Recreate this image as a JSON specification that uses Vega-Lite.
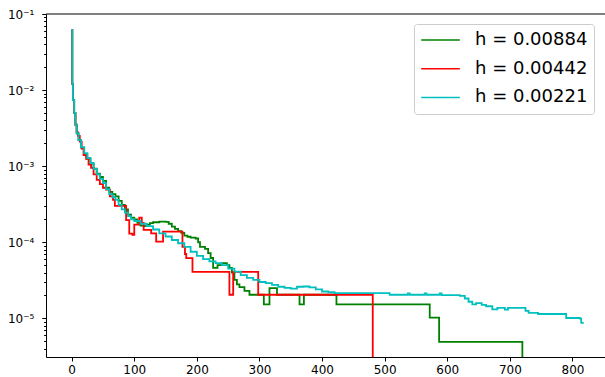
{
  "$schema": "https://vega.github.io/schema/vega-lite/v6.json",
  "width": 559,
  "height": 343,
  "autosize": {"type": "none"},
  "padding": {"left": 46, "top": 14, "right": 0, "bottom": 20},
  "background": "white",
  "config": {"view": {"stroke": null}, "font": "DejaVu Sans"},
  "datasets": {
    "curves": [
      {"s": "h = 0.00884", "x": 0, "y": 0.062}, {"s": "h = 0.00884", "x": 1, "y": 0.012}, {"s": "h = 0.00884", "x": 2, "y": 0.0074}, {"s": "h = 0.00884", "x": 4, "y": 0.005}, {"s": "h = 0.00884", "x": 6, "y": 0.0035}, {"s": "h = 0.00884", "x": 8, "y": 0.0027}, {"s": "h = 0.00884", "x": 11, "y": 0.0022}, {"s": "h = 0.00884", "x": 15, "y": 0.00175}, {"s": "h = 0.00884", "x": 20, "y": 0.00145}, {"s": "h = 0.00884", "x": 25, "y": 0.00125}, {"s": "h = 0.00884", "x": 30, "y": 0.00108}, {"s": "h = 0.00884", "x": 35, "y": 0.00093}, {"s": "h = 0.00884", "x": 40, "y": 0.0008}, {"s": "h = 0.00884", "x": 45, "y": 0.00072}, {"s": "h = 0.00884", "x": 50, "y": 0.00064}, {"s": "h = 0.00884", "x": 55, "y": 0.00052}, {"s": "h = 0.00884", "x": 60, "y": 0.00046}, {"s": "h = 0.00884", "x": 65, "y": 0.00043}, {"s": "h = 0.00884", "x": 70, "y": 0.0004}, {"s": "h = 0.00884", "x": 75, "y": 0.00035}, {"s": "h = 0.00884", "x": 80, "y": 0.00031}, {"s": "h = 0.00884", "x": 85, "y": 0.00027}, {"s": "h = 0.00884", "x": 90, "y": 0.00023}, {"s": "h = 0.00884", "x": 95, "y": 0.00021}, {"s": "h = 0.00884", "x": 100, "y": 0.0002}, {"s": "h = 0.00884", "x": 105, "y": 0.00018}, {"s": "h = 0.00884", "x": 110, "y": 0.000165}, {"s": "h = 0.00884", "x": 115, "y": 0.000163}, {"s": "h = 0.00884", "x": 120, "y": 0.00017}, {"s": "h = 0.00884", "x": 125, "y": 0.000178}, {"s": "h = 0.00884", "x": 130, "y": 0.000183}, {"s": "h = 0.00884", "x": 140, "y": 0.000187}, {"s": "h = 0.00884", "x": 150, "y": 0.000185}, {"s": "h = 0.00884", "x": 155, "y": 0.000175}, {"s": "h = 0.00884", "x": 160, "y": 0.00016}, {"s": "h = 0.00884", "x": 165, "y": 0.00015}, {"s": "h = 0.00884", "x": 170, "y": 0.00014}, {"s": "h = 0.00884", "x": 175, "y": 0.000133}, {"s": "h = 0.00884", "x": 180, "y": 0.000122}, {"s": "h = 0.00884", "x": 185, "y": 0.000118}, {"s": "h = 0.00884", "x": 190, "y": 0.000115}, {"s": "h = 0.00884", "x": 198, "y": 0.000112}, {"s": "h = 0.00884", "x": 202, "y": 0.0001}, {"s": "h = 0.00884", "x": 205, "y": 0.000087}, {"s": "h = 0.00884", "x": 213, "y": 0.000082}, {"s": "h = 0.00884", "x": 218, "y": 0.000072}, {"s": "h = 0.00884", "x": 222, "y": 0.000062}, {"s": "h = 0.00884", "x": 226, "y": 0.000046}, {"s": "h = 0.00884", "x": 233, "y": 0.00005}, {"s": "h = 0.00884", "x": 240, "y": 0.000053}, {"s": "h = 0.00884", "x": 248, "y": 0.00005}, {"s": "h = 0.00884", "x": 252, "y": 0.000046}, {"s": "h = 0.00884", "x": 256, "y": 0.00004}, {"s": "h = 0.00884", "x": 260, "y": 0.000032}, {"s": "h = 0.00884", "x": 264, "y": 0.000028}, {"s": "h = 0.00884", "x": 268, "y": 0.0000257}, {"s": "h = 0.00884", "x": 276, "y": 0.000023}, {"s": "h = 0.00884", "x": 284, "y": 0.0000204}, {"s": "h = 0.00884", "x": 307, "y": 0.0000152}, {"s": "h = 0.00884", "x": 316, "y": 0.000025}, {"s": "h = 0.00884", "x": 328, "y": 0.0000204}, {"s": "h = 0.00884", "x": 364, "y": 0.0000152}, {"s": "h = 0.00884", "x": 371, "y": 0.0000204}, {"s": "h = 0.00884", "x": 423, "y": 0.0000152}, {"s": "h = 0.00884", "x": 572, "y": 0.0000102}, {"s": "h = 0.00884", "x": 587, "y": 0.0000049}, {"s": "h = 0.00884", "x": 720, "y": 0.0000001},

      {"s": "h = 0.00442", "x": 0, "y": 0.062}, {"s": "h = 0.00442", "x": 1, "y": 0.012}, {"s": "h = 0.00442", "x": 2, "y": 0.0074}, {"s": "h = 0.00442", "x": 4, "y": 0.005}, {"s": "h = 0.00442", "x": 6, "y": 0.0035}, {"s": "h = 0.00442", "x": 8, "y": 0.0028}, {"s": "h = 0.00442", "x": 10, "y": 0.0025}, {"s": "h = 0.00442", "x": 13, "y": 0.0021}, {"s": "h = 0.00442", "x": 16, "y": 0.0017}, {"s": "h = 0.00442", "x": 19, "y": 0.0014}, {"s": "h = 0.00442", "x": 23, "y": 0.00125}, {"s": "h = 0.00442", "x": 27, "y": 0.00105}, {"s": "h = 0.00442", "x": 31, "y": 0.00095}, {"s": "h = 0.00442", "x": 35, "y": 0.00078}, {"s": "h = 0.00442", "x": 40, "y": 0.00066}, {"s": "h = 0.00442", "x": 45, "y": 0.00058}, {"s": "h = 0.00442", "x": 50, "y": 0.00052}, {"s": "h = 0.00442", "x": 55, "y": 0.00049}, {"s": "h = 0.00442", "x": 61, "y": 0.0004}, {"s": "h = 0.00442", "x": 66, "y": 0.00036}, {"s": "h = 0.00442", "x": 69, "y": 0.0003}, {"s": "h = 0.00442", "x": 87, "y": 0.000195}, {"s": "h = 0.00442", "x": 92, "y": 0.00013}, {"s": "h = 0.00442", "x": 97, "y": 0.000125}, {"s": "h = 0.00442", "x": 100, "y": 0.00017}, {"s": "h = 0.00442", "x": 108, "y": 0.00021}, {"s": "h = 0.00442", "x": 112, "y": 0.00018}, {"s": "h = 0.00442", "x": 115, "y": 0.000145}, {"s": "h = 0.00442", "x": 127, "y": 0.000131}, {"s": "h = 0.00442", "x": 135, "y": 0.000102}, {"s": "h = 0.00442", "x": 146, "y": 0.000138}, {"s": "h = 0.00442", "x": 177, "y": 0.000087}, {"s": "h = 0.00442", "x": 181, "y": 0.00007}, {"s": "h = 0.00442", "x": 183, "y": 0.0000617}, {"s": "h = 0.00442", "x": 193, "y": 0.0000407}, {"s": "h = 0.00442", "x": 252, "y": 0.0000204}, {"s": "h = 0.00442", "x": 258, "y": 0.0000407}, {"s": "h = 0.00442", "x": 298, "y": 0.0000204}, {"s": "h = 0.00442", "x": 481, "y": 0.0000001},

      {"s": "h = 0.00221", "x": 0, "y": 0.062}, {"s": "h = 0.00221", "x": 1, "y": 0.012}, {"s": "h = 0.00221", "x": 2, "y": 0.0074}, {"s": "h = 0.00221", "x": 4, "y": 0.005}, {"s": "h = 0.00221", "x": 6, "y": 0.0035}, {"s": "h = 0.00221", "x": 8, "y": 0.0027}, {"s": "h = 0.00221", "x": 11, "y": 0.0022}, {"s": "h = 0.00221", "x": 15, "y": 0.00178}, {"s": "h = 0.00221", "x": 20, "y": 0.00148}, {"s": "h = 0.00221", "x": 25, "y": 0.00128}, {"s": "h = 0.00221", "x": 30, "y": 0.0011}, {"s": "h = 0.00221", "x": 35, "y": 0.00092}, {"s": "h = 0.00221", "x": 40, "y": 0.00078}, {"s": "h = 0.00221", "x": 45, "y": 0.00068}, {"s": "h = 0.00221", "x": 50, "y": 0.0006}, {"s": "h = 0.00221", "x": 55, "y": 0.0005}, {"s": "h = 0.00221", "x": 60, "y": 0.00043}, {"s": "h = 0.00221", "x": 65, "y": 0.00039}, {"s": "h = 0.00221", "x": 70, "y": 0.00036}, {"s": "h = 0.00221", "x": 75, "y": 0.00031}, {"s": "h = 0.00221", "x": 80, "y": 0.00027}, {"s": "h = 0.00221", "x": 85, "y": 0.000245}, {"s": "h = 0.00221", "x": 90, "y": 0.00022}, {"s": "h = 0.00221", "x": 95, "y": 0.0002}, {"s": "h = 0.00221", "x": 100, "y": 0.00019}, {"s": "h = 0.00221", "x": 110, "y": 0.000175}, {"s": "h = 0.00221", "x": 120, "y": 0.000163}, {"s": "h = 0.00221", "x": 130, "y": 0.000147}, {"s": "h = 0.00221", "x": 140, "y": 0.000131}, {"s": "h = 0.00221", "x": 150, "y": 0.000119}, {"s": "h = 0.00221", "x": 160, "y": 0.000107}, {"s": "h = 0.00221", "x": 170, "y": 0.000097}, {"s": "h = 0.00221", "x": 180, "y": 0.000087}, {"s": "h = 0.00221", "x": 190, "y": 0.000075}, {"s": "h = 0.00221", "x": 200, "y": 0.000066}, {"s": "h = 0.00221", "x": 210, "y": 0.00006}, {"s": "h = 0.00221", "x": 220, "y": 0.000056}, {"s": "h = 0.00221", "x": 230, "y": 0.000053}, {"s": "h = 0.00221", "x": 240, "y": 0.00005}, {"s": "h = 0.00221", "x": 250, "y": 0.000045}, {"s": "h = 0.00221", "x": 260, "y": 0.000041}, {"s": "h = 0.00221", "x": 270, "y": 0.000037}, {"s": "h = 0.00221", "x": 280, "y": 0.000034}, {"s": "h = 0.00221", "x": 290, "y": 0.000032}, {"s": "h = 0.00221", "x": 300, "y": 0.00003}, {"s": "h = 0.00221", "x": 310, "y": 0.000029}, {"s": "h = 0.00221", "x": 320, "y": 0.0000275}, {"s": "h = 0.00221", "x": 330, "y": 0.000026}, {"s": "h = 0.00221", "x": 340, "y": 0.0000251}, {"s": "h = 0.00221", "x": 350, "y": 0.0000245}, {"s": "h = 0.00221", "x": 360, "y": 0.000026}, {"s": "h = 0.00221", "x": 370, "y": 0.0000262}, {"s": "h = 0.00221", "x": 380, "y": 0.0000255}, {"s": "h = 0.00221", "x": 390, "y": 0.000024}, {"s": "h = 0.00221", "x": 400, "y": 0.0000225}, {"s": "h = 0.00221", "x": 410, "y": 0.000022}, {"s": "h = 0.00221", "x": 420, "y": 0.0000214}, {"s": "h = 0.00221", "x": 508, "y": 0.0000204}, {"s": "h = 0.00221", "x": 537, "y": 0.0000212}, {"s": "h = 0.00221", "x": 540, "y": 0.0000204}, {"s": "h = 0.00221", "x": 564, "y": 0.0000212}, {"s": "h = 0.00221", "x": 567, "y": 0.0000204}, {"s": "h = 0.00221", "x": 588, "y": 0.0000212}, {"s": "h = 0.00221", "x": 591, "y": 0.0000202}, {"s": "h = 0.00221", "x": 620, "y": 0.0000197}, {"s": "h = 0.00221", "x": 628, "y": 0.0000182}, {"s": "h = 0.00221", "x": 634, "y": 0.0000165}, {"s": "h = 0.00221", "x": 640, "y": 0.0000152}, {"s": "h = 0.00221", "x": 646, "y": 0.0000158}, {"s": "h = 0.00221", "x": 655, "y": 0.000015}, {"s": "h = 0.00221", "x": 662, "y": 0.0000144}, {"s": "h = 0.00221", "x": 672, "y": 0.0000131}, {"s": "h = 0.00221", "x": 680, "y": 0.0000137}, {"s": "h = 0.00221", "x": 692, "y": 0.000013}, {"s": "h = 0.00221", "x": 697, "y": 0.0000137}, {"s": "h = 0.00221", "x": 725, "y": 0.0000125}, {"s": "h = 0.00221", "x": 730, "y": 0.0000118}, {"s": "h = 0.00221", "x": 745, "y": 0.0000114}, {"s": "h = 0.00221", "x": 785, "y": 0.0000114}, {"s": "h = 0.00221", "x": 790, "y": 0.0000101}, {"s": "h = 0.00221", "x": 812, "y": 0.0000099}, {"s": "h = 0.00221", "x": 814, "y": 0.0000087}, {"s": "h = 0.00221", "x": 818, "y": 0.0000087}
    ]
  },
  "layer": [
    {
      "data": {"name": "curves"},
      "mark": {"type": "line", "interpolate": "step-after", "strokeWidth": 1.8, "clip": true},
      "encoding": {
        "x": {
          "field": "x", "type": "quantitative",
          "scale": {"domain": [-41, 852], "nice": false, "zero": false},
          "axis": {
            "title": null, "grid": false, "values": [0, 100, 200, 300, 400, 500, 600, 700, 800],
            "domainColor": "#000", "domainWidth": 1, "tickColor": "#000", "tickSize": 4, "tickWidth": 1,
            "labelFont": "DejaVu Sans", "labelFontSize": 12, "labelColor": "#000", "labelPadding": 3
          }
        },
        "y": {
          "field": "y", "type": "quantitative",
          "scale": {"type": "log", "domain": [0.0000031, 0.1], "nice": false},
          "axis": {
            "title": null, "grid": false,
            "values": [0.000004, 0.000005, 0.000006, 0.000007, 0.000008, 0.000009, 0.00001, 0.00002, 0.00003, 0.00004, 0.00005, 0.00006, 0.00007, 0.00008, 0.00009, 0.0001, 0.0002, 0.0003, 0.0004, 0.0005, 0.0006, 0.0007, 0.0008, 0.0009, 0.001, 0.002, 0.003, 0.004, 0.005, 0.006, 0.007, 0.008, 0.009, 0.01, 0.02, 0.03, 0.04, 0.05, 0.06, 0.07, 0.08, 0.09, 0.1],
            "labelExpr": "(abs(log(datum.value)/LN10 - round(log(datum.value)/LN10)) > 0.01) ? '' : (round(log(datum.value)/LN10) == -1 ? '10⁻¹' : round(log(datum.value)/LN10) == -2 ? '10⁻²' : round(log(datum.value)/LN10) == -3 ? '10⁻³' : round(log(datum.value)/LN10) == -4 ? '10⁻⁴' : '10⁻⁵')",
            "labelOverlap": false,
            "tickSize": {"condition": {"test": "abs(log(datum.value)/LN10 - round(log(datum.value)/LN10)) < 0.01", "value": 4.2}, "value": 2.4},
            "domainColor": "#000", "domainWidth": 1, "tickColor": "#000", "tickWidth": 1,
            "labelFont": "DejaVu Sans", "labelFontSize": 12, "labelColor": "#000", "labelPadding": 8
          }
        },
        "color": {
          "field": "s", "type": "nominal",
          "scale": {"domain": ["h = 0.00884", "h = 0.00442", "h = 0.00221"], "range": ["#008000", "#ff0000", "#00bfbf"]},
          "legend": {
            "title": null, "orient": "none", "legendX": 368, "legendY": 10,
            "symbolType": "stroke", "symbolSize": 1490, "symbolStrokeWidth": 1.5,
            "labelFont": "DejaVu Sans", "labelFontSize": 18, "labelColor": "#000", "labelOffset": 14,
            "padding": 6, "strokeColor": "#cccccc", "cornerRadius": 3, "fillColor": "rgba(255,255,255,0.8)",
            "clipHeight": 20, "rowPadding": 8.7
          }
        }
      }
    },
    {
      "data": {"values": [{"v": 0.1}]},
      "mark": {"type": "rule", "color": "#000", "strokeWidth": 1},
      "encoding": {"y": {"field": "v", "type": "quantitative"}}
    }
  ]
}
